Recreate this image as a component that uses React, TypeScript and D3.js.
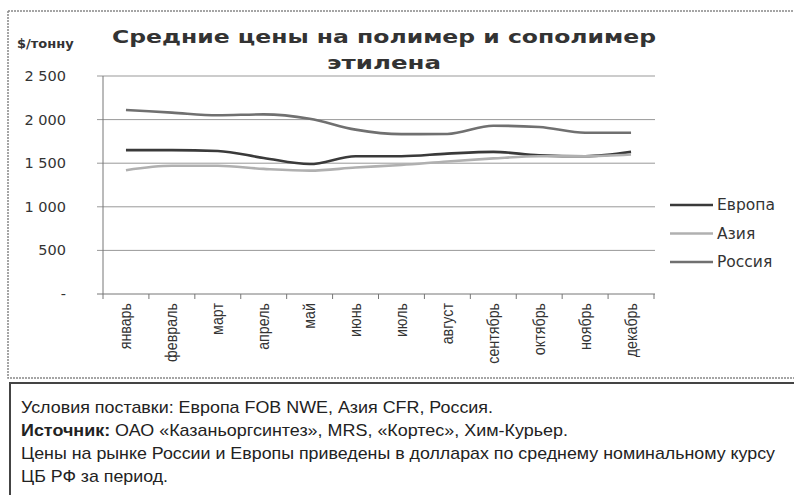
import * as d3 from "d3";

const months = ["январь", "февраль", "март", "апрель", "май", "июнь", "июль", "август", "сентябрь", "октябрь", "ноябрь", "декабрь"];
const europe = [1650, 1650, 1640, 1560, 1490, 1580, 1580, 1610, 1630, 1590, 1580, 1630];
const asia = [1420, 1470, 1470, 1435, 1415, 1450, 1480, 1520, 1555, 1580, 1580, 1600];
const russia = [2110, 2080, 2050, 2060, 2010, 1885, 1833, 1835, 1930, 1915, 1850, 1850];
const yTicks = [0, 500, 1000, 1500, 2000, 2500];

const seriesNames = ["Европа", "Азия", "Россия"];
const seriesColors = ["#3a3a3a", "#b0b0b0", "#707070"];

const notes = [
  "Условия поставки: Европа FOB NWE, Азия CFR, Россия.",
  "Цены на рынке России и Европы приведены в долларах по среднему номинальному курсу",
  "ЦБ РФ за период.",
];

const narrow = "'Liberation Sans Narrow', 'Liberation Sans', Arial, sans-serif";
const fmt = (v: number) => (v === 0 ? "-" : d3.format(",")(v).replace(",", " "));

export default function App() {
  const W = 794, H = 495;
  const x = d3.scaleBand<string>().domain(months).range([103, 654]);
  const y = d3.scaleLinear().domain([0, 2500]).range([294, 76]);
  const cx = (m: string) => (x(m) ?? 0) + x.bandwidth() / 2;
  const line = d3.line<number>()
    .x((_, i) => cx(months[i]))
    .y((d) => y(d))
    .curve(d3.curveMonotoneX);
  const data = [europe, asia, russia];

  return (
    <svg width={W} height={H} style={{ position: "absolute", left: 0, top: 0, background: "#fff" }}>
      {/* chart frame */}
      <path d="M8,11 H794 M8,11 V378 H794" fill="none" stroke="#888" strokeWidth={1.5} strokeDasharray="2 1" />
      {/* notes frame */}
      <path d="M10,495 V383 H794" fill="none" stroke="#444" strokeWidth={2} />

      <text x={384} y={43} textAnchor="middle" fontFamily="DejaVu Sans" fontWeight="bold" fontSize={18.5} fill="#333" textLength={544} lengthAdjust="spacingAndGlyphs">
        Средние цены на полимер и сополимер
      </text>
      <text x={384} y={69} textAnchor="middle" fontFamily="DejaVu Sans" fontWeight="bold" fontSize={18.5} fill="#333" textLength={114} lengthAdjust="spacingAndGlyphs">
        этилена
      </text>
      <text x={17} y={48} fontFamily="DejaVu Sans" fontWeight="bold" fontSize={13} fill="#333">$/тонну</text>

      {/* grid + y ticks */}
      {yTicks.map((t) => (
        <g key={t}>
          {t > 0 && <line x1={97} x2={655} y1={y(t)} y2={y(t)} stroke="#999" strokeWidth={1} />}
          <text x={66} y={y(t)} dy="0.35em" textAnchor="end" fontFamily="DejaVu Sans" fontSize={14.5} fill="#333">
            {fmt(t)}
          </text>
        </g>
      ))}
      {/* axes */}
      <line x1={103} x2={103} y1={76} y2={294} stroke="#777" />
      <line x1={97} x2={655} y1={294} y2={294} stroke="#777" />
      {months.map((m) => (
        <line key={"t" + m} x1={x(m)} x2={x(m)} y1={294} y2={299} stroke="#777" />
      ))}
      <line x1={654} x2={654} y1={294} y2={299} stroke="#777" />
      {months.map((m) => (
        <text key={m} transform={`translate(${cx(m) + 5.5},303) rotate(-90) scale(0.84,1)`} textAnchor="end" fontFamily={narrow} fontSize={17} fill="#333">
          {m}
        </text>
      ))}

      {data.map((s, i) => (
        <path key={i} d={line(s) ?? ""} fill="none" stroke={seriesColors[i]} strokeWidth={2.6} />
      ))}

      {/* legend */}
      {seriesNames.map((n, i) => (
        <g key={n} transform={`translate(670,${205 + i * 28.5})`}>
          <line x1={0} x2={43} y1={0} y2={0} stroke={seriesColors[i]} strokeWidth={2.6} />
          <text x={47} y={0} dy="0.35em" fontFamily="DejaVu Sans" fontSize={15.5} fill="#333">{n}</text>
        </g>
      ))}

      {/* notes */}
      <g fontFamily={narrow} fontSize={17} fill="#222">
        <text x={21} y={413} textLength={472} lengthAdjust="spacingAndGlyphs">{notes[0]}</text>
        <text x={21} y={436} textLength={547} lengthAdjust="spacingAndGlyphs">
          <tspan fontWeight="bold">Источник:</tspan> ОАО «Казаньоргсинтез», MRS, «Кортес», Хим-Курьер.
        </text>
        <text x={21} y={459} textLength={754} lengthAdjust="spacingAndGlyphs">{notes[1]}</text>
        <text x={21} y={482} textLength={147} lengthAdjust="spacingAndGlyphs">{notes[2]}</text>
      </g>
    </svg>
  );
}
